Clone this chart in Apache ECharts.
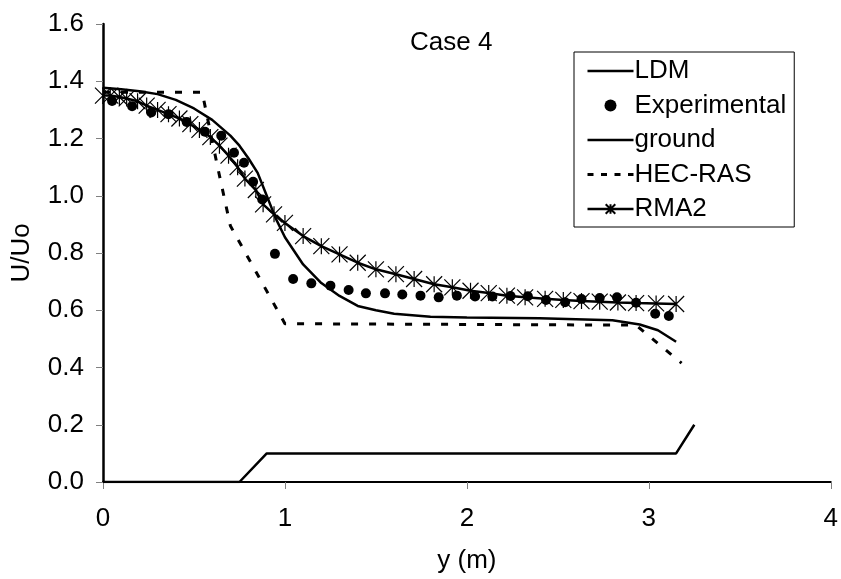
<!DOCTYPE html>
<html>
<head>
<meta charset="utf-8">
<script src="https://cdn.jsdelivr.net/npm/echarts@6/dist/echarts.min.js"></script>
<style>
    html, body {margin:0;padding:0;background:#fff;}
    #chart {width:841px;height:579px;}
</style>
</head>
<body>
<div id="chart"></div>
<script>
    // U/Uo along y (m), Case 4
    var ldmX = [0, 0.1, 0.2, 0.3, 0.4, 0.5, 0.6, 0.7, 0.75, 0.8, 0.85, 0.9, 0.95, 1.0, 1.1, 1.2, 1.3, 1.4, 1.5, 1.6, 1.8, 2.0, 2.4, 2.8, 2.95, 3.05, 3.15];
    var ldmY = [1.377, 1.372, 1.365, 1.355, 1.335, 1.305, 1.265, 1.21, 1.175, 1.13, 1.08, 1.0, 0.92, 0.855, 0.76, 0.695, 0.65, 0.615, 0.6, 0.588, 0.577, 0.575, 0.572, 0.565, 0.55, 0.53, 0.49];

    var expX = [0.05, 0.16, 0.265, 0.36, 0.46, 0.56, 0.65, 0.72, 0.775, 0.825, 0.875, 0.945, 1.045, 1.145, 1.25, 1.35, 1.445, 1.55, 1.645, 1.745, 1.845, 1.945, 2.045, 2.14, 2.24, 2.335, 2.435, 2.54, 2.63, 2.73, 2.825, 2.93, 3.035, 3.11];
    var expY = [1.331, 1.313, 1.291, 1.285, 1.258, 1.224, 1.21, 1.15, 1.115, 1.049, 0.987, 0.797, 0.709, 0.694, 0.686, 0.671, 0.659, 0.659, 0.655, 0.651, 0.645, 0.651, 0.648, 0.648, 0.65, 0.649, 0.636, 0.628, 0.639, 0.643, 0.645, 0.626, 0.588, 0.58];

    var groundX = [0, 0.75, 0.9, 3.15, 3.25];
    var groundY = [0, 0, 0.1, 0.1, 0.2];

    var hecX = [0, 0.545, 0.565, 0.63, 0.7, 1.0, 2.93, 3.18];
    var hecY = [1.362, 1.362, 1.3, 1.1, 0.895, 0.553, 0.548, 0.415];

    var rmaX = [0, 0.04, 0.09, 0.13, 0.19, 0.24, 0.3, 0.36, 0.42, 0.48, 0.53, 0.59, 0.64, 0.69, 0.74, 0.78, 0.84, 0.88, 0.94, 1.0, 1.1, 1.2, 1.3, 1.4, 1.5, 1.61, 1.71, 1.82, 1.92, 2.02, 2.12, 2.22, 2.32, 2.43, 2.53, 2.63, 2.73, 2.83, 2.93, 3.04, 3.15];
    var rmaY = [1.35, 1.35, 1.345, 1.34, 1.33, 1.315, 1.3, 1.285, 1.27, 1.25, 1.23, 1.205, 1.175, 1.14, 1.1, 1.06, 1.02, 0.97, 0.935, 0.905, 0.859, 0.824, 0.795, 0.766, 0.743, 0.726, 0.709, 0.691, 0.68, 0.668, 0.66, 0.651, 0.645, 0.64, 0.636, 0.632, 0.63, 0.627, 0.625, 0.624, 0.622];

    var xTicks = [0, 1, 2, 3, 4];
    var yTicks = [0, 0.2, 0.4, 0.6, 0.8, 1.0, 1.2, 1.4, 1.6];

    function pairs(xs, ys) {
        return xs.map(function (x, i) { return [x, ys[i]]; });
    }

    var font = 'Liberation Sans, Arial, sans-serif';
    var fs = 26;
    var star = 'path://M0,0L10,10M10,0L0,10M5,0L5,10';
    var hide = {opacity: 0};

    var chart = echarts.init(document.getElementById('chart'));
    var option = {
        animation: false,
        backgroundColor: '#fff',
        textStyle: {fontFamily: font, color: '#000'},
        grid: {left: 103, right: 10, top: 24, bottom: 92},
        graphic: [{
            type: 'text',
            left: 410,
            top: 30,
            style: {text: 'Case 4', font: fs + 'px ' + font, fill: '#000'}
        }],
        legend: {
            orient: 'vertical',
            left: 574,
            top: 52,
            padding: [6, 8, 5, 12],
            itemWidth: 46,
            itemHeight: 12,
            itemGap: 8.5,
            borderColor: '#000',
            borderWidth: 1,
            backgroundColor: '#fff',
            lineStyle: {width: 2.5},
            textStyle: {fontFamily: font, fontSize: fs, color: '#000', padding: [0, 0, 0, -4]},
            data: [
                {name: 'LDM', itemStyle: hide},
                {name: 'Experimental'},
                {name: 'ground', itemStyle: hide},
                {name: 'HEC-RAS', itemStyle: hide, lineStyle: {type: [6, 7.5], width: 3}},
                {name: 'RMA2'}
            ]
        },
        xAxis: {
            type: 'value',
            min: xTicks[0],
            max: xTicks[xTicks.length - 1],
            interval: 1,
            name: 'y (m)',
            nameLocation: 'middle',
            nameGap: 66,
            nameTextStyle: {fontFamily: font, fontSize: fs, color: '#000'},
            axisLine: {onZero: true, lineStyle: {color: '#000', width: 2}},
            axisTick: {show: true, inside: false, length: 7, lineStyle: {color: '#808080', width: 1}},
            axisLabel: {fontFamily: font, fontSize: fs, color: '#000', margin: 24},
            splitLine: {show: false}
        },
        yAxis: {
            type: 'value',
            min: yTicks[0],
            max: yTicks[yTicks.length - 1],
            interval: 0.2,
            name: 'U/Uo',
            nameLocation: 'middle',
            nameGap: 68,
            nameTextStyle: {fontFamily: font, fontSize: fs, color: '#000'},
            axisLine: {show: true, lineStyle: {color: '#000', width: 2.5}},
            axisTick: {show: true, inside: false, length: 7, lineStyle: {color: '#808080', width: 1}},
            axisLabel: {fontFamily: font, fontSize: fs, color: '#000', margin: 19,
                formatter: function (v) { return v.toFixed(1); }},
            splitLine: {show: false}
        },
        series: [
            {
                name: 'LDM', type: 'line', data: pairs(ldmX, ldmY),
                symbol: 'none', lineStyle: {color: '#000', width: 2.5}, itemStyle: {color: '#000'}, z: 3
            },
            {
                name: 'Experimental', type: 'scatter', data: pairs(expX, expY),
                symbol: 'circle', symbolSize: 10, itemStyle: {color: '#000', opacity: 1}, z: 5
            },
            {
                name: 'ground', type: 'line', data: pairs(groundX, groundY),
                symbol: 'none', lineStyle: {color: '#000', width: 2.5}, itemStyle: {color: '#000'}, z: 3
            },
            {
                name: 'HEC-RAS', type: 'line', data: pairs(hecX, hecY),
                symbol: 'none', lineStyle: {color: '#000', width: 3, type: [7, 11]}, itemStyle: {color: '#000'}, z: 3
            },
            {
                name: 'RMA2', type: 'line', data: pairs(rmaX, rmaY),
                symbol: star, symbolSize: 16, showAllSymbol: true,
                lineStyle: {color: '#000', width: 2.5},
                itemStyle: {color: 'rgba(0,0,0,0)', borderColor: '#000', borderWidth: 1.2}, z: 4
            }
        ]
    };
    chart.setOption(option);
</script>
</body>
</html>
